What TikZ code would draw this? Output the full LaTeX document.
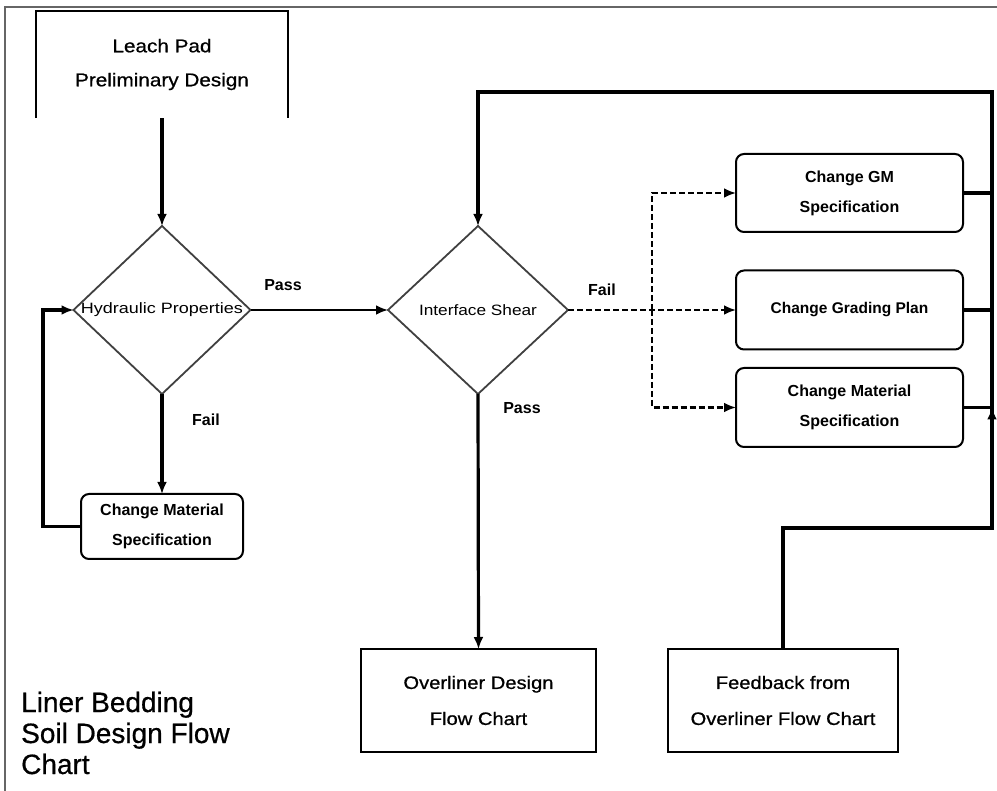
\documentclass[tikz,border=0pt]{standalone}
\usepackage{fontspec}
\setmainfont{Liberation Sans}
\newfontfamily\wideA[FakeStretch=1.12,FakeBold=0.8]{Liberation Sans}
\newfontfamily\wideD[FakeStretch=1.15]{Liberation Sans}
\newfontfamily\wideB[FakeStretch=1.2]{Liberation Sans}
\newfontfamily\titlefont[FakeBold=0.6]{Liberation Sans}
\usetikzlibrary{shapes.geometric,arrows.meta}

\begin{document}
\begin{tikzpicture}[x=1pt,y=-1pt,
  conn/.style={line width=3.2pt},
  tip/.style={-{Latex[length=12pt,width=10pt]}},
  dashc/.style={line width=2.4pt,dash pattern=on 6pt off 3pt},
  dia/.style={draw=black!75,line width=1.8pt,diamond,inner sep=0pt,outer sep=0pt,
              minimum width=#1,minimum height=168pt},
  rbox/.style={draw,line width=2pt,rounded corners=8pt,outer sep=0pt,
               align=center,font=\fontsize{16}{30}\selectfont\bfseries},
  sbox/.style={draw,line width=2.2pt,outer sep=0pt,align=center,
               font=\wideA\fontsize{18}{36}\selectfont},
  dlbl/.style={font=\wideD\fontsize{15}{18}\selectfont},
  pf/.style={font=\bfseries\fontsize{16}{18}\selectfont,inner sep=0pt},
  frame/.style={draw=black!60,line width=1.8pt}
]
\useasboundingbox (0,0) rectangle (997,791);
\fill[white] (0,0) rectangle (997,791);

% outer frame
\draw[frame] (5,791) -- (5,7) -- (997,7);

% open start box
\node[align=center,inner sep=0pt,minimum width=252pt,minimum height=107pt,
      font=\wideA\fontsize{18.5}{34}\selectfont] (leach) at (162,64.5)
      {Leach Pad\\Preliminary Design};
\draw[line width=2pt] (leach.south west) -- (leach.north west) -- (leach.north east) -- (leach.south east);

% diamonds
\node[dia=177pt,label={[dlbl,font=\wideB\fontsize{15}{18}\selectfont]center:Hydraulic Properties}] (hyd) at (162,310) {};
\node[dia=180pt,label={[dlbl]center:Interface Shear}] (intf) at (478,310) {};

% boxes
\node[rbox,minimum width=162pt,minimum height=65pt] (cm1) at (162,526.5) {Change Material\\Specification};
\node[rbox,minimum width=227pt,minimum height=78pt] (gm) at (849.5,193) {Change GM\\Specification};
\node[rbox,minimum width=227pt,minimum height=79pt,font=\fontsize{15.5}{30}\selectfont\bfseries] (grade) at (849.5,310) {Change Grading Plan};
\node[rbox,minimum width=227pt,minimum height=79pt] (cm2) at (849.5,407.5) {Change Material\\Specification};
\node[sbox,minimum width=235pt,minimum height=103pt] (over) at (478.5,700.5) {Overliner Design\\Flow Chart};
\node[sbox,minimum width=230pt,minimum height=103pt] (feed) at (783,700.5) {Feedback from\\Overliner Flow Chart};

% title
\node[anchor=west,align=left,inner sep=0pt,font=\titlefont\fontsize{28}{31}\selectfont] (title) at (21,733)
  {Liner Bedding\\Soil Design Flow\\Chart};

% labels
\node[pf] (pass1) at (283,285) {Pass};
\node[pf] (fail1) at (206,420) {Fail};
\node[pf] (fail2) at (602,290) {Fail};
\node[pf] (pass2) at (522,408) {Pass};

% connectors
\draw[conn,tip] (leach.south) -- (hyd.north);
\draw[conn,tip] (hyd.south) -- (cm1.north);
\draw[conn,tip] (cm1.west) -- ++(-38,0) |- (hyd.west);
\draw[line width=2.6pt,tip] (hyd.east) -- (intf.west);
\draw[conn,tip] (intf.south) -- (over.north);

% dashed fail branches
\coordinate (jd) at (652,310);
\draw[dashc,tip] (intf.east) -- (grade.west);
\draw[dashc,tip] (jd) |- (gm.west);
\draw[dashc,tip] (jd) |- (cm2.west);

% feedback loop
\coordinate (rb) at (992,528);
\coordinate (rt) at (992,92);
\coordinate (j3) at (992,407.5);
\draw[conn] (feed.north) |- (rb) -- (j3);
\draw[conn,tip] (rb) -- (j3);
\draw[conn,tip] (j3) -- (rt) -| (intf.north);
\draw[conn] (gm.east) -- (gm.east -| rt);
\draw[conn] (grade.east) -- (grade.east -| rt);
\draw[conn] (cm2.east) -- (j3);
\end{tikzpicture}
\end{document}
